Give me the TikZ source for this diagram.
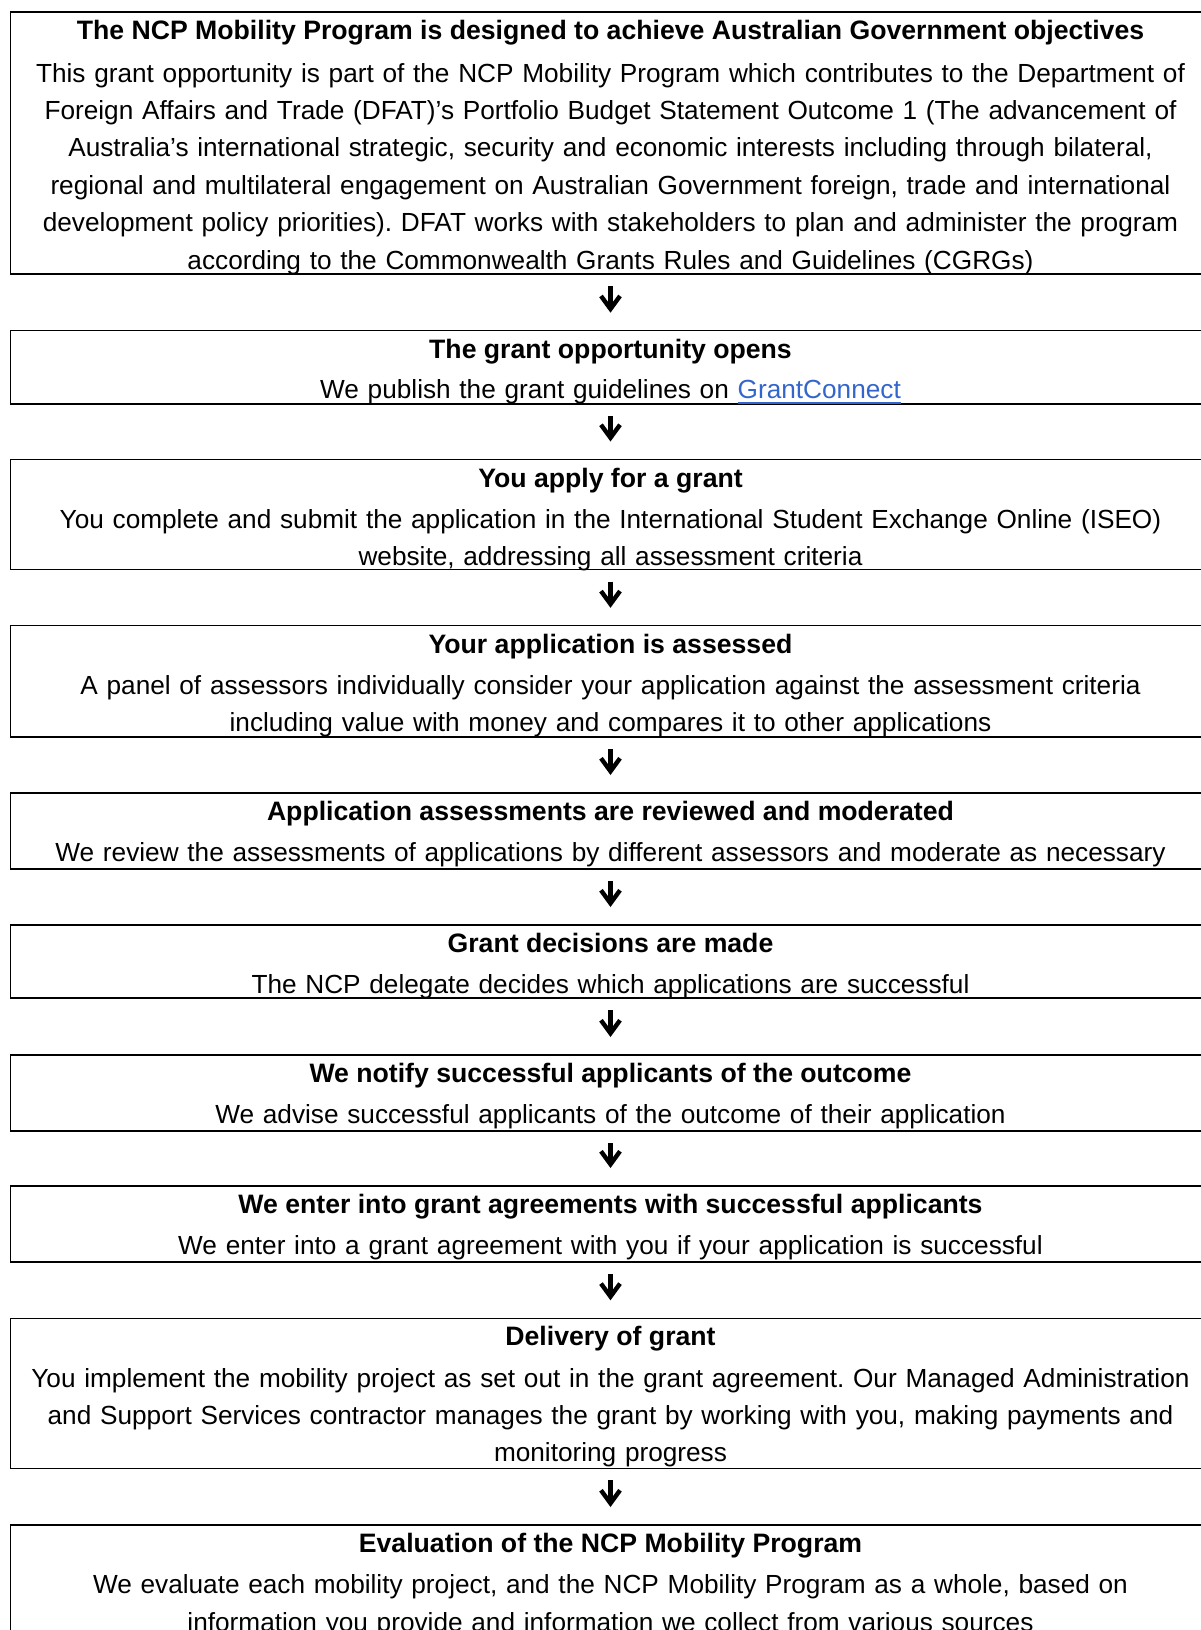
\documentclass[tikz,border=0pt]{standalone}
\usepackage{fontspec}
\setmainfont{Liberation Sans}
\usetikzlibrary{arrows.meta}
\definecolor{linkblue}{RGB}{51,102,204}
\newcommand{\linktext}[1]{{\color{linkblue}\setbox0\hbox{#1}\rlap{\rule[-2.6pt]{\wd0}{0.9pt}}\box0}}
\frenchspacing
\tikzset{
  flowbox/.style={draw, line width=0.6pt, minimum width=599.8pt, inner sep=0pt, outer sep=0pt},
  ttl/.style={anchor=base, inner sep=0pt, font=\fontsize{13.32pt}{18.7pt}\selectfont\bfseries},
  bodytxt/.style={anchor=base, inner sep=0pt, text width=599pt, align=center, font=\fontsize{13.1pt}{18.7pt}\selectfont\frenchspacing},
  flowarrow/.style={line width=2.2pt, -{Straight Barb[length=6.5pt,width=9.5pt]}, shorten <=6pt, shorten >=9pt}
}
\begin{document}
\begin{tikzpicture}[x=0.5pt,y=-0.5pt]
\useasboundingbox (0,0) rectangle (1201,1630);
\clip (0,0) rectangle (1201,1630);
% boxes
\node[flowbox, minimum height=131pt] (b1) at (610.5,143) {};
\node[flowbox, minimum height=36.65pt] (b2) at (610.5,367.35) {};
\node[flowbox, minimum height=55.05pt] (b3) at (610.5,514.55) {};
\node[flowbox, minimum height=55.6pt] (b4) at (610.5,681.4) {};
\node[flowbox, minimum height=38pt] (b5) at (610.5,831) {};
\node[flowbox, minimum height=36.5pt] (b6) at (610.5,961.5) {};
\node[flowbox, minimum height=38pt] (b7) at (610.5,1093) {};
\node[flowbox, minimum height=38pt] (b8) at (610.5,1224) {};
\node[flowbox, minimum height=75pt] (b9) at (610.5,1393.3) {};
\node[flowbox, minimum height=87.5pt] (b10) at (610.5,1612.5) {};
% texts
\node[ttl] (t1) at (610.5,39.5) {The NCP Mobility Program is designed to achieve Australian Government objectives};
\node[bodytxt] (d1) at (610.5,82) {This grant opportunity is part of the NCP Mobility Program which contributes to the Department of\\
Foreign Affairs and Trade (DFAT)’s Portfolio Budget Statement Outcome 1 (The advancement of\\
Australia’s international strategic, security and economic interests including through bilateral,\\
regional and multilateral engagement on Australian Government foreign, trade and international\\
development policy priorities). DFAT works with stakeholders to plan and administer the program\\
according to the Commonwealth Grants Rules and Guidelines (CGRGs)};
\node[ttl] (t2) at (610.5,358.2) {The grant opportunity opens};
\node[bodytxt] (d2) at (610.5,398.7) {We publish the grant guidelines on \linktext{GrantConnect}};
\node[ttl] (t3) at (610.5,487) {You apply for a grant};
\node[bodytxt] (d3) at (610.5,528.2) {You complete and submit the application in the International Student Exchange Online (ISEO)\\
website, addressing all assessment criteria};
\node[ttl] (t4) at (610.5,653.3) {Your application is assessed};
\node[bodytxt] (d4) at (610.5,694.5) {A panel of assessors individually consider your application against the assessment criteria\\
including value with money and compares it to other applications};
\node[ttl] (t5) at (610.5,820.5) {Application assessments are reviewed and moderated};
\node[bodytxt] (d5) at (610.5,861.7) {We review the assessments of applications by different assessors and moderate as necessary};
\node[ttl] (t6) at (610.5,952.5) {Grant decisions are made};
\node[bodytxt] (d6) at (610.5,993.7) {The NCP delegate decides which applications are successful};
\node[ttl] (t7) at (610.5,1082.5) {We notify successful applicants of the outcome};
\node[bodytxt] (d7) at (610.5,1123.7) {We advise successful applicants of the outcome of their application};
\node[ttl] (t8) at (610.5,1213.5) {We enter into grant agreements with successful applicants};
\node[bodytxt] (d8) at (610.5,1254.7) {We enter into a grant agreement with you if your application is successful};
\node[ttl] (t9) at (610.5,1345.8) {Delivery of grant};
\node[bodytxt] (d9) at (610.5,1387) {You implement the mobility project as set out in the grant agreement. Our Managed Administration\\
and Support Services contractor manages the grant by working with you, making payments and\\
monitoring progress};
\node[ttl] (t10) at (610.5,1552.5) {Evaluation of the NCP Mobility Program};
\node[bodytxt] (d10) at (610.5,1593.7) {We evaluate each mobility project, and the NCP Mobility Program as a whole, based on\\
information you provide and information we collect from various sources};
% arrows
\draw[flowarrow] (b1.south) -- (b2.north);
\draw[flowarrow] (b2.south) -- (b3.north);
\draw[flowarrow] (b3.south) -- (b4.north);
\draw[flowarrow] (b4.south) -- (b5.north);
\draw[flowarrow] (b5.south) -- (b6.north);
\draw[flowarrow] (b6.south) -- (b7.north);
\draw[flowarrow] (b7.south) -- (b8.north);
\draw[flowarrow] (b8.south) -- (b9.north);
\draw[flowarrow] (b9.south) -- (b10.north);
\end{tikzpicture}
\end{document}
